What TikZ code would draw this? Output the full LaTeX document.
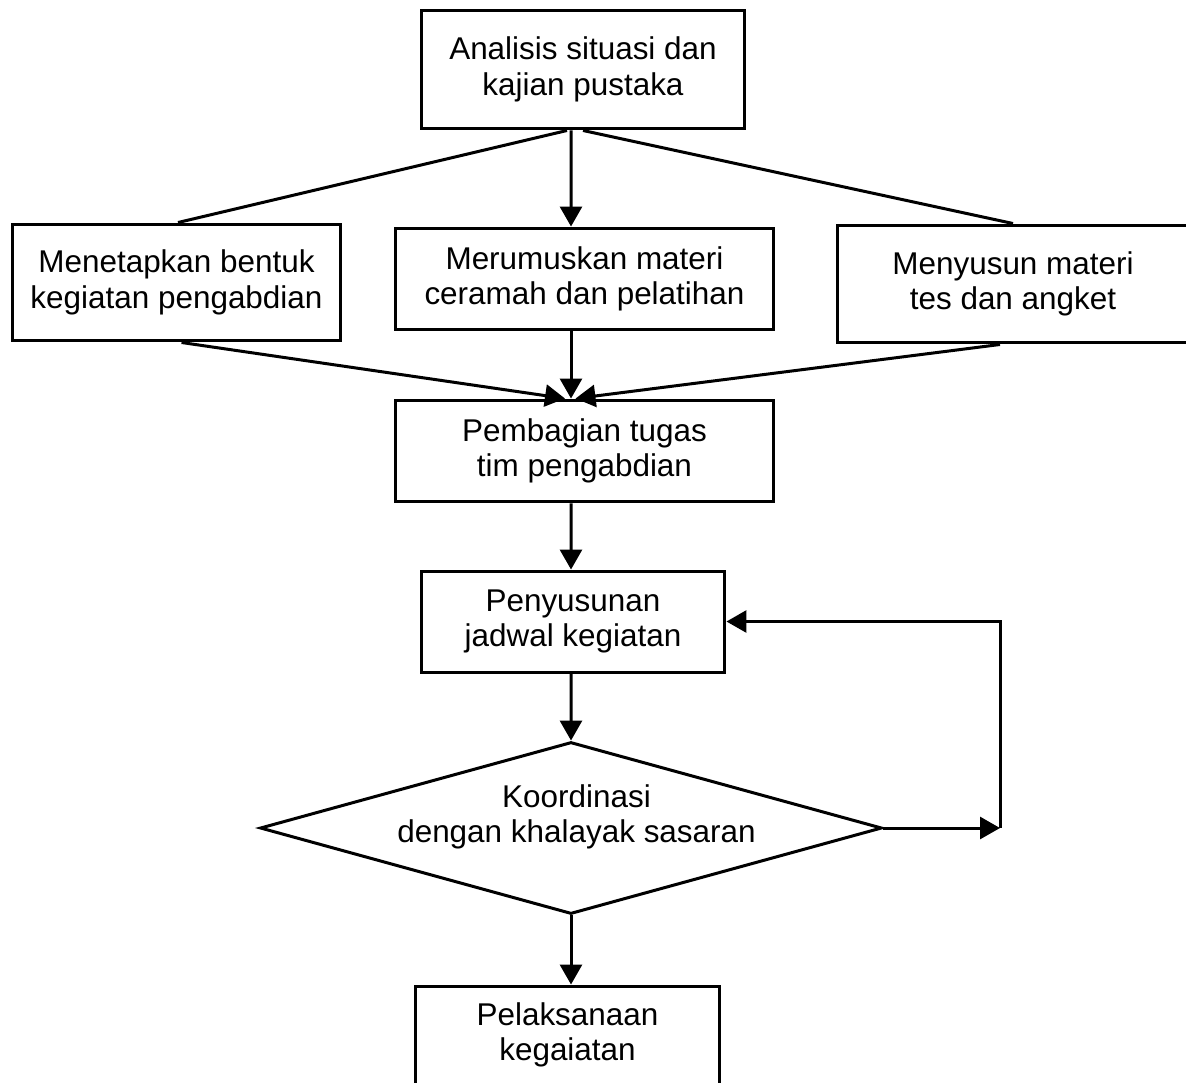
\documentclass[tikz,border=0pt]{standalone}
\usepackage{fontspec}
\setmainfont{Liberation Sans}
\usetikzlibrary{arrows.meta,shapes.geometric}
\begin{document}
\begin{tikzpicture}[x=0.02cm,y=-0.02cm,
    >={Triangle[length=0.4cm,width=0.44cm]},line width=0.06cm,line join=miter,
    teks/.style={inner sep=0pt,align=center,font=\fontsize{17.9}{20.2}\selectfont},
    box/.style={draw,rectangle,teks},
    decision/.style={draw,diamond,inner sep=0pt}]
    \useasboundingbox (0,0) rectangle (1186,1082);
    % Analysis step and the three preparation tasks.
    \node[box,minimum width=6.48cm,minimum height=2.38cm] (analisis) at (583,69.5)
      {Analisis situasi dan\\kajian pustaka};
    \node[box,minimum width=6.58cm,minimum height=2.34cm] (bentuk) at (176.5,282.5)
      {Menetapkan bentuk\\kegiatan pengabdian};
    \node[box,minimum width=7.58cm,minimum height=2.04cm] (materi) at (584.5,279)
      {Merumuskan materi\\ceramah dan pelatihan};
    \node[box,minimum width=7.04cm,minimum height=2.36cm] (tes) at (1013,284)
      {Menyusun materi\\tes dan angket};
    % Main chain down to the implementation.
    \node[box,minimum width=7.58cm,minimum height=2.04cm] (tugas) at (584.5,451)
      {Pembagian tugas\\tim pengabdian};
    \node[box,minimum width=6.08cm,minimum height=2.02cm] (jadwal) at (573,621.5)
      {Penyusunan\\jadwal kegiatan};
    \node[decision,minimum width=12.44cm,minimum height=3.44cm,
      label={[teks,name=koordinasiteks,xshift=0.11cm,yshift=0.22cm]center:Koordinasi\\dengan khalayak sasaran}]
      (koordinasi) at (571,828) {};
    \node[box,minimum width=6.1cm,minimum height=1.96cm] (pelaksanaan) at (567.5,1035)
      {Pelaksanaan\\kegaiatan};
    \coordinate (balik) at (1000,828);
    % Connectors.
    \draw ([xshift=-0.32cm]analisis.south) -- ([xshift=0.03cm]bentuk.north);
    \draw[->] ([xshift=-0.24cm]analisis.south) -- ([xshift=-0.27cm]materi.north);
    \draw (analisis.south) -- (tes.north);
    \draw[->] ([xshift=0.1cm]bentuk.south) -- ([xshift=-0.39cm]tugas.north);
    \draw[->] ([xshift=-0.27cm]materi.south) -- ([xshift=-0.27cm]tugas.north);
    \draw[->] ([xshift=-0.26cm]tes.south) -- ([xshift=-0.18cm]tugas.north);
    \draw[->] ([xshift=-0.27cm]tugas.south) -- ([xshift=-0.04cm]jadwal.north);
    \draw[->] ([xshift=-0.04cm]jadwal.south) -- (koordinasi.north);
    \draw[->] (koordinasi.east) -- (balik);
    \draw[->] (balik) |- (jadwal.east);
    \draw[->] (koordinasi.south) -- (koordinasi.south |- pelaksanaan.north);
  \end{tikzpicture}
\end{document}
